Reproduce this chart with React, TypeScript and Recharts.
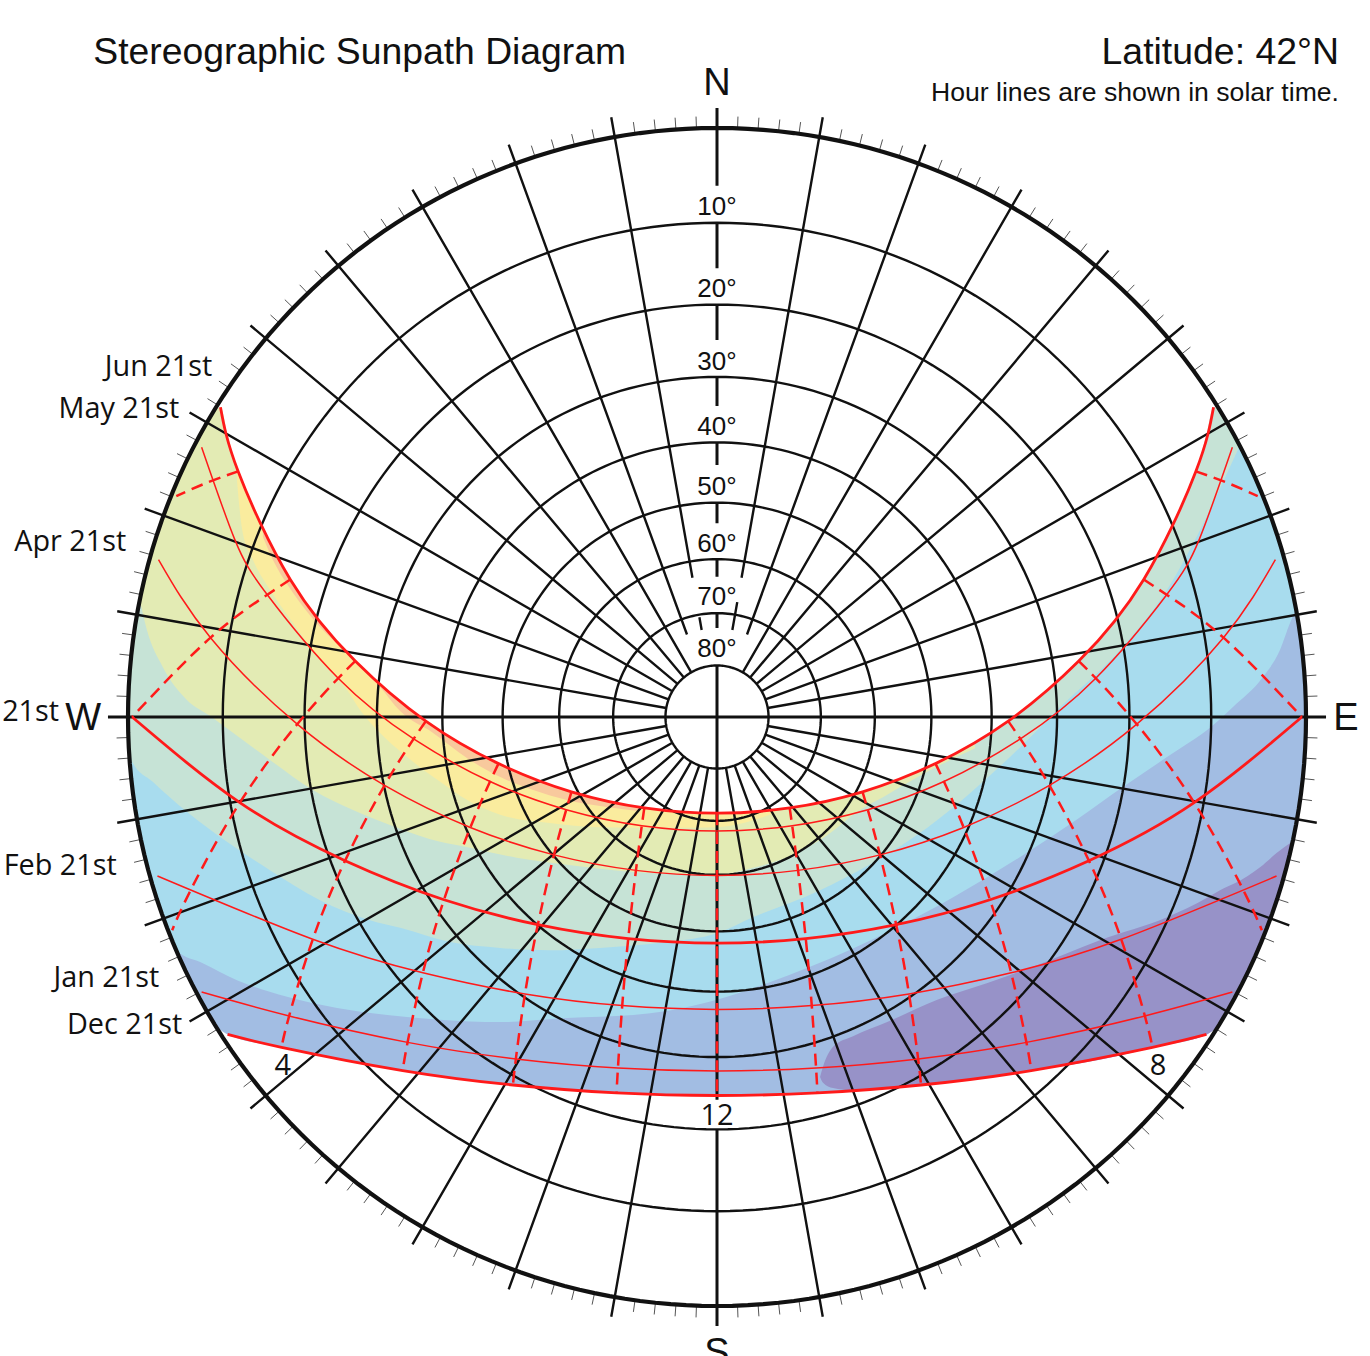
import React from 'react';
import { ComposedChart, XAxis, YAxis, Area, Line, ReferenceDot } from 'recharts';

// All values are in plan units on the stereographic disc: horizon radius = 100, +x east, +y north.
type P = number[];

// afternoon half of each day's path: noon, then whole solar hours, then the drawn end of the curve
const JUN_PM: P[] = [[0,-16.33],[12.34,-15.44],[24.71,-12.71],[37.1,-7.91],[49.44,-0.7],[61.42,9.49],[72.45,23.35],[81.31,41.71],[84.3,52.6]];
const MAY_PM: P[] = [[0,-19.35],[12.77,-18.46],[25.6,-15.74],[38.53,-10.96],[51.51,-3.72],[64.31,6.58],[76.35,20.76],[86.44,39.84],[87.5,45.8]];
const APR_PM: P[] = [[0,-26.89],[13.76,-26.04],[27.68,-23.41],[41.88,-18.75],[56.44,-11.6],[71.27,-1.22],[85.99,13.47],[94.8,26.7]];
const MAR_PM: P[] = [[0,-38.39],[15.07,-37.63],[30.42,-35.26],[46.35,-31.02],[63.14,-24.39],[81.01,-14.53],[99.3,0]];
const FEB_PM: P[] = [[0,-49.64],[16.09,-49],[32.6,-47.02],[49.94,-43.43],[68.63,-37.74],[89.21,-29.09],[95,-27]];
const JAN_PM: P[] = [[0,-60.09],[16.82,-59.59],[34.15,-58.05],[52.53,-55.24],[72.64,-50.75],[87.5,-46.7]];
const DEC_PM: P[] = [[0,-64.26],[17.05,-63.83],[34.64,-62.48],[53.36,-60.03],[73.93,-56.08],[83.1,-53.9]];

// the curves' evenly spaced knots near their ends
const MAY_CURVE: P[] = [...MAY_PM.slice(0, 7), [81.9,30.2], [87.5,45.8]];
const FEB_CURVE: P[] = [...FEB_PM.slice(0, 5), [95,-27]];
const THIN_PATHS = [MAY_CURVE, APR_PM, FEB_CURVE, JAN_PM];
const THICK_PATHS = [JUN_PM, MAR_PM, DEC_PM];

// hour lines, listed from June to December
const HOUR_0: P[] = [JUN_PM[0], MAY_PM[0], APR_PM[0], MAR_PM[0], FEB_PM[0], JAN_PM[0], DEC_PM[0]];
const HOUR_1: P[] = [JUN_PM[1], MAY_PM[1], APR_PM[1], MAR_PM[1], FEB_PM[1], JAN_PM[1], DEC_PM[1]];
const HOUR_2: P[] = [JUN_PM[2], MAY_PM[2], APR_PM[2], MAR_PM[2], FEB_PM[2], JAN_PM[2], DEC_PM[2]];
const HOUR_3: P[] = [JUN_PM[3], MAY_PM[3], APR_PM[3], MAR_PM[3], FEB_PM[3], JAN_PM[3], DEC_PM[3]];
const HOUR_4: P[] = [JUN_PM[4], MAY_PM[4], APR_PM[4], MAR_PM[4], FEB_PM[4], JAN_PM[4], DEC_PM[4]];
const HOUR_5: P[] = [JUN_PM[5], MAY_PM[5], APR_PM[5], MAR_PM[5], FEB_PM[5], [92.5,-36.2]];
const HOUR_6: P[] = [JUN_PM[6], MAY_PM[6], APR_PM[6], MAR_PM[6]];
const HOUR_7: P[] = [JUN_PM[7], MAY_PM[7], [91.8,37.5]];
const HOUR_LINES = [HOUR_1, HOUR_2, HOUR_3, HOUR_4, HOUR_5, HOUR_6, HOUR_7];

// lower edges of the coloured seasons (each fills up to the top; the sky mask then trims it)
const LILAC_EDGE: P[] = [[-100,0],[-99.5,-10],[-99,-14.1],[-98,-19.9],[-96,-28],[-94,-34.1],[-92,-39.2],[-90,-43.6],[-88,-47.5],[-85.4,-52],[-83.1,-53.9],[-73.93,-56.08],[-64,-58.2],[-53.36,-60.03],[-44,-61.3],[-34.64,-62.48],[-26,-63.3],[-17.05,-63.83],[-8.5,-64.2],[0,-64.26],[8.5,-64.2],[17.05,-63.83],[26,-63.3],[34.64,-62.48],[44,-61.3],[53.36,-60.03],[64,-58.2],[73.93,-56.08],[83.1,-53.9],[85.4,-52],[88,-47.5],[90,-43.6],[92,-39.2],[94,-34.1],[96,-28],[98,-19.9],[99,-14.1],[99.5,-10],[100,0]];
const SKY_EDGE: P[] = [[-100,0],[-99.5,-10],[-99,-14.1],[-98,-19.9],[-96,-28],[-94,-34.1],[-91.7,-39.7],[-87.3,-41.8],[-81.5,-44.7],[-73,-47.5],[-64.5,-49.4],[-56,-50.6],[-47,-51.4],[-36.8,-51.8],[-25.5,-51.1],[-19.9,-50.9],[-8.5,-49.9],[0,-48],[8.5,-45.2],[15.8,-42.4],[23.1,-39.3],[30.2,-35.9],[40.1,-30.6],[51.4,-23.8],[61.1,-17.4],[68.9,-11.9],[76.4,-6.8],[84.2,-1.4],[87.6,1.7],[92.7,6.8],[95.6,11.4],[97.3,16],[98.3,18.3]];
const GREEN_EDGE: P[] = [[-100,0],[-99.3,-7.6],[-95.8,-11],[-90,-16.1],[-83.2,-21.2],[-75.9,-26],[-67.4,-31.1],[-58.9,-34.5],[-53.8,-35.8],[-45.3,-38.2],[-36.8,-39.2],[-28.4,-39.6],[-19.9,-39.2],[-8.5,-38.2],[0,-36.7],[6.1,-34],[17.5,-29.4],[26,-25],[35.7,-18.8],[43,-12.9],[51.4,-5.2],[58.2,1.6],[68.9,11.9],[76.4,21.6],[82,31.7],[86.6,41.4],[88.5,45.5]];
const OLIVE_EDGE: P[] = [[-98,19.9],[-96.8,14.8],[-94.1,8.5],[-90,2.9],[-86.1,0.2],[-83.9,-1.4],[-75.9,-7.3],[-68.6,-12.4],[-61.8,-15.8],[-54.3,-18.8],[-47,-21.2],[-42.4,-22.1],[-34,-23.9],[-25.5,-25.1],[-14.3,-26.3],[0,-26.8],[6.1,-25.6],[11.9,-23.8],[17.5,-20.9],[20.4,-18.8],[23.1,-16.6],[28.9,-13.2],[35.7,-9.3],[43.8,-5.3]];
const YELLOW_EDGE: P[] = [[-81.5,40.2],[-80.6,31.7],[-78.8,26.7],[-75.9,21.6],[-72,16],[-67.9,10.2],[-62.8,4.6],[-60.6,1.2],[-57.7,-2.2],[-52.6,-6.8],[-47,-11],[-42.4,-14.1],[-36.8,-16.6],[-28.4,-18],[-19.9,-18.7],[-8.5,-18.8],[0,-18.7],[9.8,-16.3]];
const ORANGE_EDGE: P[] = [[-77.1,30.6],[-75.4,26.7],[-72,21.1],[-67.4,15.3],[-62.8,10.9],[-57.2,5.1],[-53.8,1],[-48.2,-2.7],[-42.4,-7],[-36.8,-10.2],[-31.2,-12.4],[-25.5,-14.1],[-18.7,-15.3],[-13.1,-16]];
// purple patch: x, lower edge, upper edge
const PURPLE_BAND: P[] = [[17.5,-61.1,-61.1],[18,-62.1,-59.4],[19.7,-63,-56],[23.1,-63.4,-54.2],[28.9,-62.9,-51.8],[37.4,-62.1,-48],[45.8,-61.1,-45.2],[53.65,-60,-42.4],[65,-58.2,-37.9],[76.4,-55.5,-34],[83.2,-53.9,-30.7],[85.4,-52,-29.4],[88,-47.5,-28.2],[92.2,-38.7,-25.5],[95,-31.2,-23.1],[97.6,-21.8,-21.2]];
// upper limit of the sun's reach: horizon arc, June path, horizon arc
const SKY_MASK_EDGE: P[] = [[-101,0],[-100,0],[-99.5,10],[-99,14.1],[-98,19.9],[-97,24.3],[-96,28],[-94,34.1],[-92,39.2],[-90,43.6],[-88,47.5],[-86,51],[-84.3,52.6],[-83,47.5],[-81.31,41.71],[-77.2,31.9],[-72.45,23.35],[-67.3,16],[-61.42,9.49],[-55.6,4],[-49.44,-0.7],[-43.4,-4.5],[-37.1,-7.91],[-31,-10.5],[-24.71,-12.71],[-18.6,-14.3],[-12.34,-15.44],[-6.2,-16.1],[0,-16.33],[6.2,-16.1],[12.34,-15.44],[18.6,-14.3],[24.71,-12.71],[31,-10.5],[37.1,-7.91],[43.4,-4.5],[49.44,-0.7],[55.6,4],[61.42,9.49],[67.3,16],[72.45,23.35],[77.2,31.9],[81.31,41.71],[83,47.5],[84.3,52.6],[86,51],[88,47.5],[90,43.6],[92,39.2],[94,34.1],[96,28],[97,24.3],[98,19.9],[99,14.1],[99.5,10],[100,0],[101,0]];

// compass grid
const ALTITUDE_RINGS = [10, 20, 30, 40, 50, 60, 70, 80];
const SPOKE_AZIMUTHS = [10,20,30,40,50,60,70,80,100,110,120,130,140,150,160,170,190,200,210,220,230,240,250,260,280,290,300,310,320,330,340,350];
const TICK_AZIMUTHS = [2,4,6,8,12,14,16,18,22,24,26,28,32,34,36,38,42,44,46,48,52,54,56,58,62,64,66,68,72,74,76,78,82,84,86,88,92,94,96,98,102,104,106,108,112,114,116,118,122,124,126,128,132,134,136,138,142,144,146,148,152,154,156,158,162,164,166,168,172,174,176,178,182,184,186,188,192,194,196,198,202,204,206,208,212,214,216,218,222,224,226,228,232,234,236,238,242,244,246,248,252,254,256,258,262,264,266,268,272,274,276,278,282,284,286,288,292,294,296,298,302,304,306,308,312,314,316,318,322,324,326,328,332,334,336,338,342,344,346,348,352,354,356,358];
const SPOKE_INNER = 8.75;
const SPOKE_OUTER = 103.4;
const TICK_OUTER = 102;
// radial stretches left open for the ring labels on the north line
const NORTH_STRETCHES: P[] = [[90.2,103.4],[76.2,83.9],[64,70],[52.8,57.7],[42.8,46.5],[32.9,36.2],[23.8,26.7],[15.1,17.7],[0,8.75]];
const SOUTH_STRETCHES: P[] = [[0,65],[70,103.4]];
const EAST_WEST_STRETCHES: P[] = [[0,103.4]];
const NEAR_NORTH: Record<number, P[]> = {
  10: [[24,103.4],[15,19.8]],
  350: [[24,103.4],[15,17.2]],
  20: [[14.9,103.4]],
  340: [[14.9,103.4]],
};

const RING_LABELS = [
  { text: '10°', y: 85.2 }, { text: '20°', y: 71.3 }, { text: '30°', y: 58.9 }, { text: '40°', y: 47.9 },
  { text: '50°', y: 37.7 }, { text: '60°', y: 28 }, { text: '70°', y: 19 }, { text: '80°', y: 10.2 },
];
const DATE_LABELS = [
  { text: 'Jun 21st', x: -85.7, y: 57.9 }, { text: 'May 21st', x: -91.3, y: 50.8 }, { text: 'Apr 21st', x: -100.3, y: 28.2 },
  { text: '21st', x: -111.7, y: -0.7 }, { text: 'Feb 21st', x: -101.9, y: -26.8 }, { text: 'Jan 21st', x: -94.7, y: -45.8 },
  { text: 'Dec 21st', x: -90.8, y: -53.8 },
];
const HOUR_LABELS = [{ text: '4', x: -73.7, y: -60.8 }, { text: '8', x: 74.9, y: -60.8 }, { text: '12', x: 0, y: -69.3 }];
const COMPASS_LABELS = [{ text: 'N', x: 0, y: 105.6 }, { text: 'W', x: -107.6, y: -2.2 }, { text: 'E', x: 106.8, y: -2.2 }, { text: 'S', x: 0, y: -110 }];

const RED = '#FF1A1A';
const INK = '#111111';
const SANS = '"Liberation Sans", Arial, sans-serif';
const HUMANIST = '"Open Sans", sans-serif';
const TOP = 100;

const polar = (az: number, r: number) => ({
  x: r * Math.sin((az * Math.PI) / 180),
  y: r * Math.cos((az * Math.PI) / 180),
});
const toRows = (pts: P[]) => pts.map(([x, y]) => ({ x, y }));
const wholeDay = (pm: P[]) =>
  toRows([...pm.slice(1).reverse().map(([x, y]) => [-x, y]), ...pm]);
const edgeBand = (pts: P[]) => pts.map(([x, y]) => ({ x, band: [y, TOP] }));
const mirror = (pts: P[]) => pts.map(([x, y]) => ({ x: -x, y }));

const RING_STEPS = Array.from({ length: 241 }, (_, i) => i * 1.5);
const ringRows = (r: number) => RING_STEPS.map((a) => polar(a, r));
const ringRadius = (alt: number) => 100 * Math.tan((((90 - alt) / 2) * Math.PI) / 180);
const strokes = (az: number, stretches: P[]) =>
  stretches.flatMap(([a, b]) => {
    const p = polar(az, a);
    return [p, polar(az, b), { x: p.x, y: null as unknown as number }];
  });

const innerRings = ALTITUDE_RINGS.flatMap((alt) => [...ringRows(ringRadius(alt)), { x: 0, y: null as unknown as number }]);
const spokeRows = SPOKE_AZIMUTHS.flatMap((az) => strokes(az, NEAR_NORTH[az] ?? [[SPOKE_INNER, SPOKE_OUTER]]));
const tickRows = TICK_AZIMUTHS.flatMap((az) => strokes(az, [[100, TICK_OUTER]]));
const crossRows = [
  ...strokes(0, NORTH_STRETCHES),
  ...strokes(180, SOUTH_STRETCHES),
  ...strokes(90, EAST_WEST_STRETCHES),
  ...strokes(270, EAST_WEST_STRETCHES),
];

const caption = (
  key: string,
  text: string,
  x: number,
  y: number,
  size: number,
  anchor: 'start' | 'middle' | 'end',
  family: string,
) => (
  <ReferenceDot
    key={key}
    x={x}
    y={y}
    r={0}
    ifOverflow="visible"
    shape={(p: any) => (
      <text x={p.cx} y={p.cy} fontSize={size} textAnchor={anchor} fontFamily={family} fill={INK}>
        {text}
      </text>
    )}
  />
);

const fill = (key: string, data: any[], color: string) => (
  <Area key={key} data={data} dataKey="band" type="monotone" fill={color} fillOpacity={1} stroke="none" dot={false} activeDot={false} isAnimationActive={false} />
);
const stroke = (key: string, data: any[], color: string, width: number, type: any = 'linear', dash?: string) => (
  <Line key={key} data={data} dataKey="y" type={type} stroke={color} strokeWidth={width} strokeDasharray={dash} dot={false} activeDot={false} isAnimationActive={false} />
);

export default function App() {
  return (
    <div style={{ position: 'absolute', left: 0, top: 0, width: 1370, height: 1356, background: '#fff' }}>
      <ComposedChart width={1370} height={1356} margin={{ top: 0, right: 0, bottom: 0, left: 0 }}>
        <XAxis dataKey="x" type="number" domain={[-121.732, 110.866]} hide allowDataOverflow />
        <YAxis type="number" domain={[-108.489, 121.732]} hide allowDataOverflow />

        {fill('lilac', edgeBand(LILAC_EDGE), '#A2BDE3')}
        {fill('sky', edgeBand(SKY_EDGE), '#A8DCEE')}
        {fill('green', edgeBand(GREEN_EDGE), '#C6E3D6')}
        {fill('olive', edgeBand(OLIVE_EDGE), '#E3EBB4')}
        {fill('yellow', edgeBand(YELLOW_EDGE), '#FAEC9E')}
        {fill('orange', edgeBand(ORANGE_EDGE), '#F8C99D')}
        {fill('purple', PURPLE_BAND.map(([x, a, b]) => ({ x, band: [a, b] })), '#9792C8')}
        {fill('mask', SKY_MASK_EDGE.map(([x, y]) => ({ x, band: [y, 101] })), '#FFFFFF')}

        {stroke('rings', innerRings, INK, 2.4)}
        {stroke('spokes', spokeRows, INK, 2.4)}
        {stroke('ticks', tickRows, '#555555', 1)}
        {stroke('cross', crossRows, INK, 3)}
        {stroke('horizon', ringRows(100), INK, 4.2)}

        {stroke('noon', toRows(HOUR_0), RED, 2.5, 'natural', '12 7')}
        {HOUR_LINES.map((h, i) => stroke(`pm${i}`, toRows(h), RED, 2.5, 'natural', '12 7'))}
        {HOUR_LINES.map((h, i) => stroke(`am${i}`, mirror(h), RED, 2.5, 'natural', '12 7'))}
        {THIN_PATHS.map((p, i) => stroke(`thin${i}`, wholeDay(p), RED, 1.5, 'natural'))}
        {THICK_PATHS.map((p, i) => stroke(`thick${i}`, wholeDay(p), RED, 2.8, 'natural'))}

        {RING_LABELS.map((l) => caption(l.text, l.text, 0, l.y, 26, 'middle', SANS))}
        {DATE_LABELS.map((l) => caption(l.text, l.text, l.x, l.y, 28.8, 'end', HUMANIST))}
        {HOUR_LABELS.map((l) => caption(l.text, l.text, l.x, l.y, 29, 'middle', HUMANIST))}
        {COMPASS_LABELS.map((l) => caption(l.text, l.text, l.x, l.y, 38, 'middle', SANS))}
        {caption('title', 'Stereographic Sunpath Diagram', -105.9, 110.9, 37.3, 'start', SANS)}
        {caption('lat', 'Latitude: 42°N', 105.6, 110.9, 37.4, 'end', SANS)}
        {caption('note', 'Hour lines are shown in solar time.', 105.6, 104.6, 26.6, 'end', SANS)}
      </ComposedChart>
    </div>
  );
}
